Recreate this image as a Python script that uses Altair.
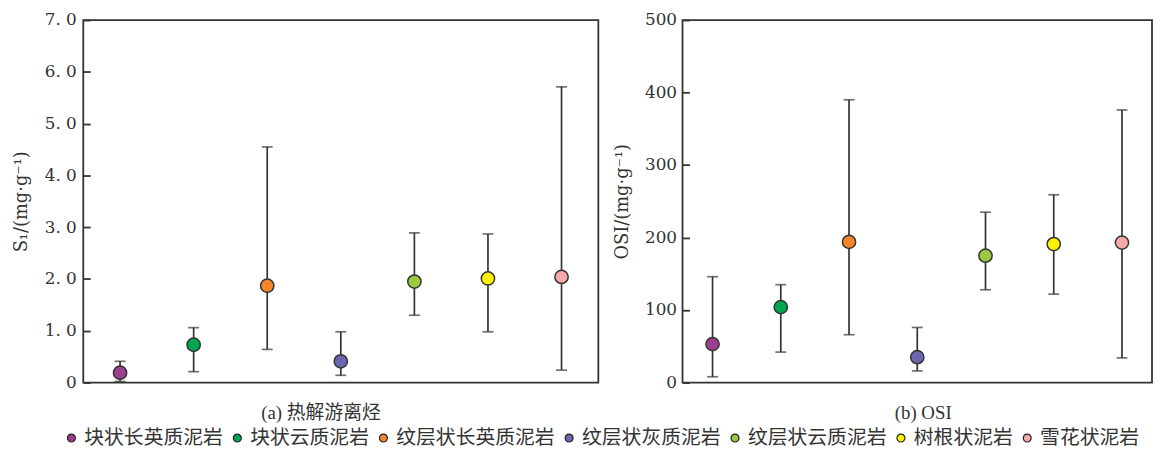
import altair as alt
import pandas as pd

categories = ["块状长英质泥岩", "块状云质泥岩", "纹层状长英质泥岩", "纹层状灰质泥岩",
              "纹层状云质泥岩", "树根状泥岩", "雪花状泥岩"]
colors = ["#9B3F8E", "#00A651", "#F7862A", "#6B66B2", "#9CC93F", "#FFF200", "#F5A9A8"]

s1_mean = [0.19, 0.73, 1.87, 0.41, 1.95, 2.01, 2.04]
s1_max = [0.41, 1.06, 4.55, 0.98, 2.89, 2.87, 5.71]
s1_min = [0.02, 0.21, 0.64, 0.14, 1.30, 0.98, 0.24]
s1_ticks = [0, 1, 2, 3, 4, 5, 6, 7]

osi_mean = [53, 104, 194, 35, 175, 191, 193]
osi_max = [146, 135, 390, 76, 235, 259, 376]
osi_min = [8, 42, 66, 16, 128, 122, 34]
osi_ticks = [0, 100, 200, 300, 400, 500]

INK = "#333333"
SERIF = "DejaVu Serif"
CAPFONT = "Liberation Serif, Noto Sans CJK SC"


def panel(mean, lo, hi, ymax, ticks, ytitle, caption, width, label_expr, lpad, tpad,
          cap_dx, xpad):
    df = pd.DataFrame({"cat": categories, "mean": mean, "lo": lo, "hi": hi})
    x = alt.X("cat:N", sort=categories,
              scale=alt.Scale(domain=categories, type="point", padding=xpad), axis=None)
    ysc = alt.Scale(domain=[0, ymax], nice=False, zero=True)
    yaxis = alt.Axis(values=ticks, title=ytitle, domain=False, ticks=True, tickSize=7,
                     offset=-7, tickColor=INK, tickWidth=1.8, labelPadding=lpad,
                     labelFont=SERIF, labelFontSize=17, labelColor=INK, labelOverlap=False,
                     labelExpr=label_expr, grid=False, titleFont=SERIF, titleFontSize=18,
                     titleFontWeight="normal", titleColor=INK, titlePadding=tpad)
    base = alt.Chart(df)
    rule = base.mark_rule(color=INK, strokeWidth=1.7).encode(
        x=x, y=alt.Y("lo:Q", scale=ysc, axis=yaxis), y2="hi:Q")
    cap_hi = base.mark_tick(color=INK, thickness=1.7, size=11).encode(
        x=x, y=alt.Y("hi:Q", scale=ysc))
    cap_lo = base.mark_tick(color=INK, thickness=1.7, size=11).encode(
        x=x, y=alt.Y("lo:Q", scale=ysc))
    pts = base.mark_circle(size=180, opacity=1, stroke=INK, strokeWidth=1.5).encode(
        x=x, y=alt.Y("mean:Q", scale=ysc),
        color=alt.Color("cat:N", sort=categories,
                        scale=alt.Scale(domain=categories, range=colors),
                        legend=alt.Legend(title=None, orient="none", direction="horizontal",
                                          columns=7, legendX=-22, legendY=412,
                                          labelFont="Noto Sans CJK SC", labelFontSize=20,
                                          labelColor=INK, symbolType="circle", symbolSize=64,
                                          symbolStrokeColor="#222222", symbolStrokeWidth=1.2,
                                          symbolOpacity=1, columnPadding=4.5, labelOffset=3)))
    return alt.layer(rule, cap_hi, cap_lo, pts).properties(
        width=width, height=366,
        title=alt.TitleParams(caption, orient="bottom", font=CAPFONT, fontSize=19,
                              fontWeight="normal", color=INK, offset=14, frame="group",
                              anchor="middle", dx=cap_dx))


left = panel(s1_mean, s1_min, s1_max, 7, s1_ticks, "S₁/(mg·g⁻¹)", "(a) 热解游离烃", 520,
             "datum.value == 0 ? '0' : replace(format(datum.value, '.1f'), '.', '. ')",
             7, 14, -20, 0.5)
right = panel(osi_mean, osi_min, osi_max, 500, osi_ticks, "OSI/(mg·g⁻¹)", "(b) OSI", 474,
              "format(datum.value, 'd')", 6, 13, 6, 0.44)

chart = alt.hconcat(left, right, spacing=13).properties(
    padding={"left": 3, "top": 0, "right": 0, "bottom": 6},
    background="white"
).configure_view(stroke=INK, strokeWidth=1.8)

chart.save("out.html", embed_options={"renderer": "svg", "actions": False})
